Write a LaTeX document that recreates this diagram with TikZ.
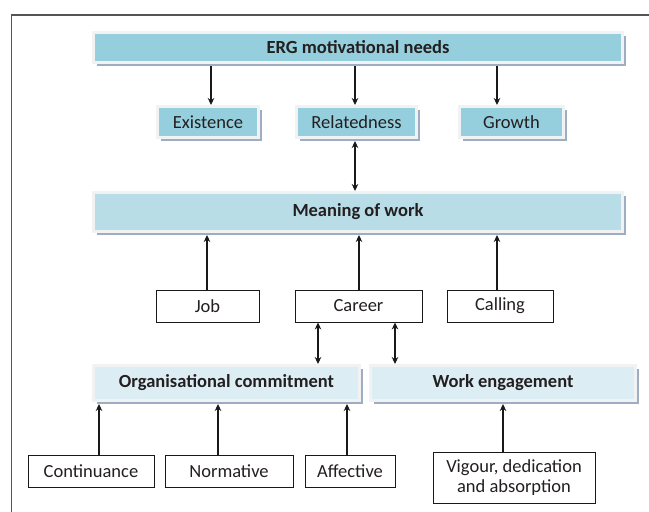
\documentclass[tikz,border=0pt]{standalone}
\usepackage{fontspec}
\setmainfont{Carlito}
\usetikzlibrary{shadows,arrows.meta}
\definecolor{ergc}{HTML}{95CEDC}
\definecolor{meanc}{HTML}{B8DDE7}
\definecolor{orgc}{HTML}{DCEEF4}
\definecolor{rimc}{HTML}{F0F2F3}
\definecolor{shadc}{HTML}{9EADC2}
\definecolor{txtc}{HTML}{231F20}
\definecolor{framec}{HTML}{555555}
\tikzset{
  every node/.style={font=\fontsize{18.5}{20.5}\selectfont, text=txtc, inner sep=0pt, align=center},
  boldtext/.style={font=\fontsize{18.5}{20.5}\selectfont\bfseries},
  colbox/.style={draw=rimc, line width=3pt, drop shadow={shadow xshift=3pt, shadow yshift=-3pt, fill=shadc, opacity=1}},
  plainbox/.style={draw=black!90, line width=0.9pt, fill=white},
  arr/.style={draw=black!90, line width=1.1pt, -{Stealth[length=7pt,width=6.5pt]}},
  darr/.style={draw=black!90, line width=1.1pt, {Stealth[length=7pt,width=6.5pt]}-{Stealth[length=7pt,width=6.5pt]}}
}
\begin{document}
\begin{tikzpicture}[x=1pt,y=-1pt]
\useasboundingbox (0,0) rectangle (649,512);
\fill[white] (0,0) rectangle (649,512);
\draw[framec, line width=1.3pt] (11.5,512) -- (11.5,15) -- (649,15);

% top row
\node[colbox, fill=ergc, minimum width=529pt, minimum height=30pt, boldtext] (erg) at (358,47.5) {ERG motivational needs};
\node[colbox, fill=ergc, minimum width=101pt, minimum height=31pt] (exist) at (208,122) {Existence};
\node[colbox, fill=ergc, minimum width=120pt, minimum height=31pt] (rel) at (356.5,122) {Relatedness};
\node[colbox, fill=ergc, minimum width=104pt, minimum height=31pt] (grow) at (511.5,122) {Growth};

% meaning
\node[colbox, fill=meanc, minimum width=529pt, minimum height=39pt, boldtext] (mean) at (358,212) {Meaning of work};

\node[plainbox, minimum width=103pt, minimum height=32pt] (job) at (207.5,306) {Job};
\node[plainbox, minimum width=127pt, minimum height=32pt] (career) at (358.5,306) {Career};
\node[plainbox, minimum width=106pt, minimum height=32pt] (calling) at (500,306) {Calling};

% commitment / engagement
\node[colbox, fill=orgc, minimum width=266pt, minimum height=35pt, boldtext] (org) at (226.5,383) {Organisational commitment};
\node[colbox, fill=orgc, minimum width=265pt, minimum height=35pt, boldtext] (work) at (503,383) {Work engagement};

\node[plainbox, minimum width=126pt, minimum height=32pt] (cont) at (91,471) {Continuance};
\node[plainbox, minimum width=128pt, minimum height=32pt] (norm) at (229,471) {Normative};
\node[plainbox, minimum width=90pt, minimum height=32pt] (aff) at (350,471) {Affective};
\node[plainbox, minimum width=162pt, minimum height=51pt] (vig) at (514,477.5) {Vigour, dedication\\and absorption};

% arrows
\draw[arr] ([yshift=-2pt]erg.south -| 211,0) -- (exist.north -| 211,0);
\draw[arr] ([yshift=-2pt]erg.south -| 355,0) -- (rel.north -| 355,0);
\draw[arr] ([yshift=-2pt]erg.south -| 497,0) -- (grow.north -| 497,0);
\draw[darr] ([yshift=-2pt]rel.south -| 355,0) -- (mean.north -| 355,0);

\draw[arr] (job.north -| 207,0) -- ([yshift=-2pt]mean.south -| 207,0);
\draw[arr] (career.north -| 359,0) -- ([yshift=-2pt]mean.south -| 359,0);
\draw[arr] (calling.north -| 497,0) -- ([yshift=-2pt]mean.south -| 497,0);

\draw[darr] (career.south -| 318,0) -- (org.north -| 318,0);
\draw[darr] (career.south -| 395,0) -- (work.north -| 395,0);

\draw[arr] (cont.north -| 99,0) -- ([yshift=-2pt]org.south -| 99,0);
\draw[arr] (norm.north -| 218,0) -- ([yshift=-2pt]org.south -| 218,0);
\draw[arr] (aff.north -| 347,0) -- ([yshift=-2pt]org.south -| 347,0);
\draw[arr] (vig.north -| 503,0) -- ([yshift=-2pt]work.south -| 503,0);
\end{tikzpicture}
\end{document}
